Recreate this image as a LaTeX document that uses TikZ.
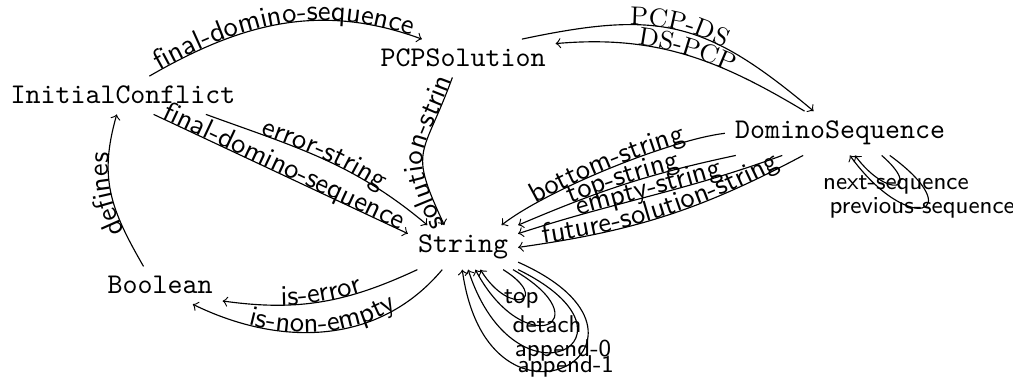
\documentclass[tikz,border=0pt]{standalone}
\usepackage{fontspec}
\usetikzlibrary{decorations.text}
\tikzset{cls/.style={font=\ttfamily, anchor=base},
  lbl/.style={postaction={decorate,decoration={text along path,text align=center,text={|\sffamily|#1}}}},
  rlbl/.style={postaction={decorate,decoration={text along path,text align=center,text={|\rmfamily\fontsize{9}{11}\selectfont|#1}}}},
  loopl/.style={font=\sffamily\fontsize{8.5}{10}\selectfont}}

\begin{document}
\begin{tikzpicture}[x=0.35pt,y=0.35pt]
       \useasboundingbox (0,0) rectangle (1013,383);
       \node[cls] (ic)   at (123,279) {InitialConflict};
       \node[cls] (pcp)  at (463,316) {PCPSolution};
       \node[cls] (ds)   at (840,244) {DominoSequence};
       \node[cls] (str)  at (463,130) {String};
       \node[cls] (bool) at (160,89)  {Boolean};

       \draw[->,lbl=final-domino-sequence] (ic.36) to[out=30,in=160] (pcp.155);
       \draw[->,lbl=error-string] (ic.-13) to[out=-20,in=140] (str.148);
       \draw[->,lbl=final-domino-sequence] (ic.-32) -- (str.166);
       \draw[->,lbl=defines] (bool.131) to[out=120,in=-106,looseness=1.1] (ic.-108);
       \draw[<-,postaction={decorate,decoration={text along path,text={|\sffamily|solution-string}}}]
         (str.130) to[out=115,in=-110,looseness=1.5] (pcp.-119);

       \draw[->,rlbl=PCP-DS] (pcp.18) to[out=12,in=140,looseness=1.2] (ds.140);
       \draw[<-,rlbl=DS-PCP] (pcp.9) to[out=5,in=149] (ds.148);

       \draw[<-,lbl=bottom-string] (str.30) to[out=38,in=187,looseness=0.6] (ds.west);
       \draw[<-,lbl=top-string] (str.north east) to[out=23,in=192] (ds.-168);
       \draw[<-,lbl=empty-string] (str.14) to[out=18,in=200] (ds.-159);
       \draw[<-,lbl=future-solution-string] (str.east) to[out=8,in=208] (ds.-149);

       \draw[<-,lbl=is-error] (bool.-14) to[out=-8,in=-155] (str.-154);
       \draw[<-,lbl=is-non-empty] (bool.-30) to[out=-26,in=-130] (str.-133);

       \draw[->] (str.-29) to[out=-32,in=-58,distance=20pt] node[loopl] {top} (str.-52);
       \draw[->] (str.-24) to[out=-30,in=-62,distance=37pt] node[loopl] {detach} (str.-61);
       \draw[->] (str.south east) to[out=-26,in=-72,distance=54pt] node[loopl] {append-0} (str.-77);
       \draw[->] (str.-15) to[out=-24,in=-82,distance=67pt] node[loopl] {append-1} (str.-92);

       \draw[->] (ds.-28) to[out=-41,in=-53,distance=19pt] node[loopl] {next-sequence} (ds.-56);
       \draw[->] (ds.-24) to[out=-36,in=-54,distance=35pt] node[loopl] {previous-sequence} (ds.-66);
\end{tikzpicture}
\end{document}
